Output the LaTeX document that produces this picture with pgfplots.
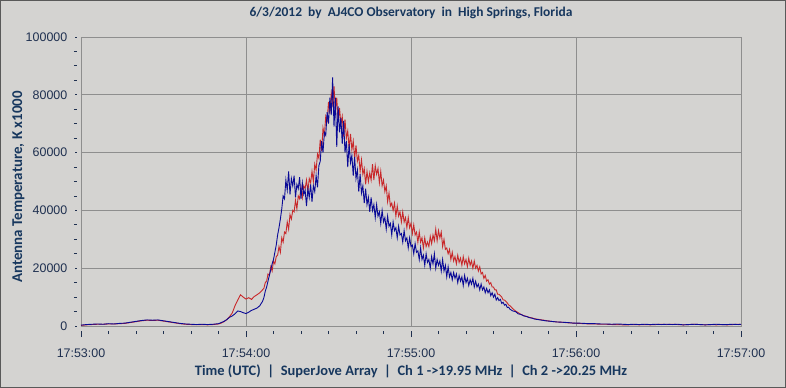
\documentclass[border=0pt]{standalone}
\usepackage{pgfplots}
\pgfplotsset{compat=1.18}
\usepackage{fontspec}
\setmainfont{Liberation Sans}
\newfontfamily\carlito{Carlito}
\definecolor{bgc}{HTML}{D4D3D1}
\definecolor{gridc}{HTML}{8E8E8E}
\definecolor{navy}{HTML}{17375E}
\definecolor{tickc}{HTML}{1F3050}
\definecolor{ch1}{RGB}{10,10,150}
\definecolor{ch2}{RGB}{200,40,42}
\begin{document}
\begin{tikzpicture}
\useasboundingbox (-81bp,-62bp) rectangle (705bp,326bp);
\fill[bgc] (-81bp,-62bp) rectangle (705bp,326bp);
\draw[gray!70!black,line width=1.2bp] (-80.4bp,-61.4bp) rectangle (704.4bp,325.4bp);
\begin{axis}[
  scale only axis, width=660bp, height=289bp,
  at={(0,0)}, anchor=south west,
  xmin=0, xmax=240, ymin=0, ymax=100000,
  axis background/.style={fill=bgc},
  axis line style={gridc, line width=0.8bp},
  grid=major, major grid style={gridc, line width=0.8bp},
  xtick={0,60,120,180,240},
  xticklabels={17:53:00,17:54:00,17:55:00,17:56:00,17:57:00},
  minor x tick num=5,
  ytick={0,20000,40000,60000,80000,100000},
  yticklabels={0,20000,40000,60000,80000,100000},
  minor y tick num=3,
  scaled y ticks=false,
  tick align=outside, xtick pos=bottom, ytick pos=left,
  major tick length=1.5bp, minor tick length=3bp,
  tick style={tickc, line width=0.8bp},
  xtick style={yshift=-5bp},
  ytick style={xshift=-4bp},
  every major x tick/.append style={/pgfplots/major tick length=6bp},
  xticklabel shift=21bp, yticklabel shift=12bp,
  ticklabel style={font=\fontsize{12.5}{14}\selectfont, text=tickc, inner sep=0pt},
  title={6/3/2012\ \ by\ \ AJ4CO Observatory\ \ in\ \ High Springs, Florida},
  title style={at={([yshift=18bp]axis description cs:0.5,1)}, anchor=center, font=\carlito\bfseries\fontsize{13.5}{15}\selectfont, text=navy},
  xlabel={Time (UTC)\ \ |\ \ SuperJove Array\ \ |\ \ Ch 1 ->19.95 MHz\ \ |\ \ Ch 2 ->20.25 MHz},
  xlabel style={at={([yshift=-45bp]axis description cs:0.5,0)}, anchor=center, font=\carlito\bfseries\fontsize{14.5}{16}\selectfont, text=navy},
  ylabel={Antenna Temperature, K x1000},
  every axis y label/.style={at={([xshift=-62.5bp,yshift=-5.5bp]axis description cs:0,0.5)}, rotate=90, anchor=center, font=\carlito\bfseries\fontsize{15}{16}\selectfont, text=navy},
]
\addplot[ch2, line width=0.9bp, mark=none] coordinates {
(0,200)(2,400)(4,500)(6,600)(8,600)(10,700)(12,700)(14,800)(16,900)(18,1200)(20,1500)(22,1800)(24,2000)(26,1900)(28,2000)(30,1700)(32,1400)(34,1100)(36,800)(38,600)(40,500)(42,500)(44,500)(46,400)(48,500)(50,700)
(51,1000)(52,1500)(53,2200)(54,3200)(55,4500)(56,7000)(57,9000)(58,10800)(59,10000)(60,9300)(61,9800)(62,9200)(63,10200)(64,10800)(65,11500)(66,12500)
(66.5,13000)(67,15000)(67.5,15500)(68,18000)(68.5,17500)(69,20500)(69.5,19000)(70,22500)(70.5,21500)(71,24000)(71.5,24500)(72,27500)(72.5,25500)(73,30500)(73.5,29000)(74,32500)(74.5,32000)(75,36000)(75.5,33500)(76,38500)(76.5,37000)(77,40000)(77.5,39500)(78,43500)(78.5,40500)(79,45000)(79.5,44000)(80,48000)(80.5,44500)(81,48500)(81.5,47500)(82,50500)(82.5,46500)(83,51000)(83.5,49500)(84,53500)(84.5,50000)(85,56000)(85.5,54000)(86,59500)(86.5,58000)(87,64500)(87.5,60500)(88,68500)(88.5,66000)(89,72500)(89.5,71000)(90,77500)(90.5,73500)(91,80500)(91.5,77000)(92,83000)(92.5,74500)(93,79000)(93.5,70500)(94,75500)(94.5,70000)(95,72500)(95.5,65500)(96,71500)(96.5,65000)(97,67500)(97.5,61500)(98,66500)(98.5,61000)(99,64000)(99.5,58000)(100,62500)(100.5,57000)(101,59000)(101.5,53500)(102,57500)(102.5,52500)(103,54500)(103.5,49000)(104,53500)(104.5,50000)(105,53000)(105.5,50500)(106,56000)(106.5,50500)(107,55500)(107.5,52500)(108,54500)(108.5,49500)(109,53500)(109.5,48500)(110,50500)(110.5,46500)(111,48500)(111.5,43000)(112,46000)(112.5,41500)(113,42500)(113.5,40000)(114,42500)(114.5,38000)(115,41500)(115.5,38000)(116,39500)(116.5,36000)(117,39500)(117.5,36000)(118,37500)(118.5,34000)(119,37500)(119.5,34000)(120,35500)(120.5,32000)(121,35000)(121.5,31500)(122,32500)(122.5,29000)(123,32500)(123.5,29000)(124,30500)(124.5,27000)(125,30500)(125.5,27500)(126,29000)(126.5,27500)(127,31000)(127.5,28500)(128,31500)(128.5,29500)(129,33500)(129.5,29500)(130,33000)(130.5,30500)(131,32500)(131.5,27500)(132,30000)(132.5,26500)(133,27000)(133.5,25000)(134,26500)(134.5,23000)(135,25500)(135.5,22500)(136,24000)(136.5,21500)(137,24500)(137.5,22000)(138,23500)(138.5,21000)(139,24000)(139.5,21500)(140,23000)(140.5,20500)(141,23500)(141.5,21000)(142,22500)(142.5,20000)(143,22500)(143.5,20000)(144,21000)(144.5,19000)(145,20500)(145.5,18000)(146,18500)(146.5,16500)(147,17500)(147.5,15500)(148,16000)(148.5,14500)(149,15000)(149.5,13500)(150,13500)(150.5,12500)(151,12500)(151.5,11000)(152,11000)(152.5,10500)(153,10000)(153.5,9000)(154,9000)(154.5,8500)(155,8000)(155.5,7300)(156,7000)
(157,6000)(158,5200)(159,4600)(160,4000)(161,3600)(162,3300)(163,3000)(164,2800)(165,2500)
(167,2200)(169,1900)(171,1600)(173,1400)(175,1300)(177,1100)(179,1000)(181,900)(183,800)(185,700)(187,700)(189,600)(191,600)(193,500)(195,500)(197,400)(199,400)(201,500)(203,400)(205,500)(207,400)(209,500)(211,600)(213,500)(215,600)(217,500)(219,400)(221,500)(223,600)(225,500)(227,400)(229,500)(231,400)(233,500)(235,400)(237,500)(239,600)(240,500)
};
\addplot[ch1, line width=0.9bp, mark=none] coordinates {
(0,300)(2,500)(4,600)(6,700)(8,600)(10,800)(12,700)(14,900)(16,1000)(18,1300)(20,1600)(22,1900)(24,2100)(26,2000)(28,2100)(30,1800)(32,1500)(34,1200)(36,900)(38,700)(40,600)(42,500)(44,600)(46,500)(48,600)(50,800)
(51,1200)(52,1600)(53,2200)(54,3000)(55,3500)(56,4200)(57,5200)(58,5000)(59,4600)(60,4300)(61,4800)(62,5400)(63,5800)(64,6200)(65,7000)(66,8500)
(66.5,9800)(67,12000)(67.5,13500)(68,15500)(68.5,17500)(69,19500)(69.5,21500)(70,23000)(70.5,25500)(71,28000)(71.5,31500)(72,34000)(72.5,37000)(73,40500)(73.5,45000)
(74,44000)(74.5,50500)(75,47000)(75.5,53500)(76,45500)(76.5,51000)(77,48500)(77.5,52000)(78,44500)(78.5,49000)(79,47500)(79.5,51500)(80,44000)(80.5,49500)(81,45500)(81.5,47000)(82,41500)(82.5,47500)(83,44500)(83.5,49000)(84,43000)(84.5,48500)(85,46500)(85.5,52000)(86,48000)(86.5,55500)(87,57000)(87.5,64000)(88,60000)(88.5,67000)(89,66000)(89.5,74000)(90,70000)(90.5,79000)(91,73000)(91.5,86000)(92,69000)(92.5,79000)(93,62000)(93.5,76000)(94,67000)(94.5,72000)(95,63000)(95.5,71000)(96,60000)(96.5,64000)(97,55000)(97.5,63000)(98,56500)(98.5,59000)(99,52000)(99.5,58500)(100,51000)(100.5,54000)(101,46500)(101.5,52500)(102,46000)(102.5,48500)(103,42500)(103.5,47500)(104,42000)(104.5,44500)(105,39500)(105.5,44500)(106,40000)(106.5,42000)(107,37500)(107.5,42000)(108,38000)(108.5,39500)(109,35500)(109.5,40000)(110,36000)(110.5,37500)(111,33500)(111.5,38000)(112,34500)(112.5,35500)(113,31500)(113.5,36000)(114,33000)(114.5,34000)(115,30500)(115.5,34500)(116,31500)(116.5,32000)(117,29000)(117.5,33000)(118,29500)(118.5,30500)(119,27000)(119.5,30500)(120,27500)(120.5,28000)(121,25000)(121.5,28500)(122,25500)(122.5,26000)(123,23000)(123.5,27000)(124,23000)(124.5,24500)(125,21000)(125.5,25000)(126,22000)(126.5,23000)(127,20000)(127.5,24000)(128,21500)(128.5,25000)(129,20000)(129.5,23000)(130,21000)(130.5,22500)(131,19000)(131.5,23000)(132,19000)(132.5,21000)(133,17000)(133.5,20500)(134,17000)(134.5,18500)(135,16000)(135.5,18500)(136,16500)(136.5,18000)(137,15000)(137.5,17500)(138,15500)(138.5,17000)(139,14000)(139.5,17500)(140,15000)(140.5,16500)(141,14000)(141.5,16000)(142,14500)(142.5,16500)(143,13500)(143.5,15500)(144,13500)(144.5,14500)(145,12500)(145.5,14500)(146,12500)(146.5,13500)(147,11500)(147.5,13000)(148,11500)(148.5,12500)(149,10500)(149.5,11500)(150,10000)(150.5,11000)(151,9000)(151.5,9800)(152,8800)(152.5,9200)(153,7800)(153.5,8200)(154,7200)(154.5,7500)(155,6400)(155.5,6500)(156,5800)
(157,5200)(158,5000)(159,4200)(160,4000)(161,3500)(162,3300)(163,2900)(164,2700)(165,2400)
(167,2100)(169,1800)(171,1600)(173,1400)(175,1300)(177,1200)(179,1000)(181,1000)(183,900)(185,800)(187,800)(189,700)(191,700)(193,600)(195,700)(197,600)(199,500)(201,600)(203,500)(205,600)(207,500)(209,600)(211,500)(213,600)(215,500)(217,600)(219,400)(221,500)(223,600)(225,500)(227,400)(229,500)(231,600)(233,500)(235,500)(237,600)(239,500)(240,600)
};
\end{axis}
\end{tikzpicture}
\end{document}
